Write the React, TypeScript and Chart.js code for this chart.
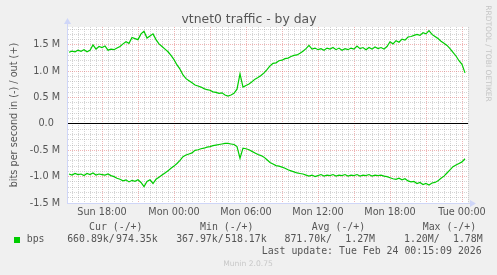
import React, { useEffect, useRef } from "react";
import { Chart, registerables } from "chart.js";

Chart.register(...registerables);

// ---- data ----
const TITLE = "vtnet0 traffic - by day";
const Y_TITLE = "bits per second in (-) / out (+)";
const SIDE_TEXT = "RRDTOOL / TOBI OETIKER";
const FOOTER = "Munin 2.0.75";
const LAST_UPDATE = "Last update: Tue Feb 24 00:15:09 2026";

// sample times: hours relative to Mon 00:00, one sample every 15 minutes
const START_HOUR = -8.75;
const STEP_HOUR = 0.25;

// out (+) traffic, Mbit/s
const OUT_MBPS = [
  1.36, 1.38, 1.37, 1.40, 1.38, 1.41, 1.37, 1.40, 1.50, 1.42,
  1.47, 1.45, 1.48, 1.40, 1.42, 1.41, 1.44, 1.47, 1.52, 1.56,
  1.53, 1.64, 1.62, 1.60, 1.71, 1.76, 1.63, 1.67, 1.71, 1.60,
  1.52, 1.47, 1.42, 1.37, 1.30, 1.22, 1.12, 1.04, 0.93, 0.86,
  0.82, 0.78, 0.74, 0.72, 0.70, 0.67, 0.65, 0.64, 0.61, 0.60,
  0.58, 0.59, 0.55, 0.53, 0.55, 0.58, 0.66, 0.95, 0.70, 0.73,
  0.76, 0.80, 0.85, 0.88, 0.92, 0.97, 1.03, 1.10, 1.15, 1.16,
  1.20, 1.21, 1.24, 1.25, 1.28, 1.30, 1.31, 1.34, 1.38, 1.43,
  1.49, 1.42, 1.44, 1.41, 1.43, 1.40, 1.44, 1.42, 1.45, 1.41,
  1.44, 1.40, 1.43, 1.41, 1.44, 1.42, 1.48, 1.43, 1.45, 1.41,
  1.45, 1.42, 1.46, 1.43, 1.45, 1.42, 1.47, 1.56, 1.52, 1.58,
  1.55, 1.61, 1.59, 1.65, 1.66, 1.68, 1.70, 1.68, 1.73, 1.71,
  1.77, 1.70, 1.66, 1.62, 1.57, 1.53, 1.49, 1.43, 1.36, 1.29,
  1.20, 1.13, 0.97,
];

// in (-) traffic, Mbit/s (drawn below zero)
const IN_MBPS = [
  0.95, 0.97, 0.94, 0.96, 0.95, 0.98, 0.94, 0.96, 0.93, 0.97,
  0.95, 0.96, 0.97, 0.95, 0.98, 1.00, 1.03, 1.05, 1.08, 1.06,
  1.10, 1.07, 1.09, 1.06, 1.11, 1.19, 1.09, 1.06, 1.13, 1.05,
  1.01, 0.97, 0.93, 0.89, 0.84, 0.80, 0.75, 0.69, 0.62, 0.59,
  0.57, 0.55, 0.50, 0.49, 0.47, 0.46, 0.44, 0.43, 0.41, 0.40,
  0.39, 0.38, 0.37, 0.37, 0.38, 0.39, 0.43, 0.65, 0.46, 0.47,
  0.49, 0.52, 0.55, 0.58, 0.60, 0.63, 0.68, 0.73, 0.76, 0.79,
  0.80, 0.82, 0.84, 0.87, 0.89, 0.91, 0.93, 0.94, 0.95, 0.97,
  0.99, 0.97, 1.00, 0.98, 0.96, 0.99, 0.97, 0.98, 0.96, 0.99,
  0.97, 0.98, 0.96, 0.99, 0.97, 0.98, 0.96, 0.99, 0.97, 0.98,
  0.96, 0.99, 0.97, 0.98, 0.97, 0.99, 1.00, 1.02, 1.04, 1.05,
  1.03, 1.06, 1.04, 1.08, 1.10, 1.09, 1.13, 1.11, 1.15, 1.13,
  1.16, 1.12, 1.11, 1.08, 1.03, 0.99, 0.93, 0.87, 0.81, 0.78,
  0.75, 0.72, 0.66,
];

const X_MIN_HOUR = -8.9167;
const X_MAX_HOUR = 24.5;
const X_LABEL_HOURS = [-6, 0, 6, 12, 18, 24];
const X_LABEL_TEXT = ["Sun 18:00", "Mon 00:00", "Mon 06:00", "Mon 12:00", "Mon 18:00", "Tue 00:00"];

const Y_MIN = -1.5;
const Y_MAX = 1.84;

const LEGEND_NAME = "bps";
const LEGEND_HEADERS = ["Cur (-/+)", "Min (-/+)", "Avg (-/+)", "Max (-/+)"];
const LEGEND_IN = ["660.89k", "367.97k", "871.70k", "1.20M"];
const LEGEND_OUT = ["974.35k", "518.17k", "1.27M", "1.78M"];

// ---- style ----
const W = 497;
const H = 275;
const GREEN = "#00CC00";
const TEXT = "#555555";
const AXIS = "#CFD6F8";
const MAJOR = "rgba(222,90,90,0.45)";
const MINOR = "rgba(150,150,150,0.4)";
const SANS = "'DejaVu Sans', sans-serif";
const MONO = "'DejaVu Sans Mono', monospace";

const HEADER_X = [89, 200, 311.7, 422.7];
const COL_END = [157.7, 266.7, 375, 482.7];

const round1 = (v: number) => Math.round(v * 10) / 10;
const round2 = (v: number) => Math.round(v * 100) / 100;

const decorPlugin = {
  id: "muninDecor",
  beforeDraw(chart: any) {
    const { ctx, chartArea: a } = chart;
    ctx.save();
    ctx.fillStyle = "#F0F0F0";
    ctx.fillRect(0, 0, W, H);
    ctx.fillStyle = "#FFFFFF";
    ctx.fillRect(a.left, a.top, a.right - a.left, a.bottom - a.top);
    ctx.restore();
  },
  afterDraw(chart: any) {
    const { ctx, chartArea: a } = chart;
    ctx.save();
    // axis extensions + arrows
    ctx.strokeStyle = AXIS;
    ctx.fillStyle = AXIS;
    ctx.lineWidth = 1;
    ctx.beginPath();
    ctx.moveTo(a.left + 0.5, a.top);
    ctx.lineTo(a.left + 0.5, a.top - 4);
    ctx.moveTo(a.right, a.bottom + 0.5);
    ctx.lineTo(a.right + 3, a.bottom + 0.5);
    ctx.stroke();
    ctx.beginPath();
    ctx.moveTo(a.left + 0.5, a.top - 9);
    ctx.lineTo(a.left - 3, a.top - 3);
    ctx.lineTo(a.left + 4, a.top - 3);
    ctx.closePath();
    ctx.fill();
    ctx.beginPath();
    ctx.moveTo(a.right + 8, a.bottom + 0.5);
    ctx.lineTo(a.right + 2, a.bottom - 3);
    ctx.lineTo(a.right + 2, a.bottom + 4);
    ctx.closePath();
    ctx.fill();

    // title
    ctx.fillStyle = TEXT;
    ctx.font = `12.4px ${SANS}`;
    ctx.textAlign = "center";
    ctx.textBaseline = "alphabetic";
    ctx.fillText(TITLE, 249, 22.5);

    // side text
    ctx.save();
    ctx.translate(487.7, 53.5);
    ctx.rotate(Math.PI / 2);
    ctx.fillStyle = "#C4C4C4";
    ctx.font = `7.5px ${SANS}`;
    ctx.textAlign = "center";
    ctx.textBaseline = "middle";
    ctx.fillText(SIDE_TEXT, 0, 0);
    ctx.restore();

    // legend
    ctx.font = `9.9px ${MONO}`;
    ctx.fillStyle = TEXT;
    ctx.textBaseline = "middle";
    ctx.textAlign = "left";
    LEGEND_HEADERS.forEach((h, i) => ctx.fillText(h, HEADER_X[i], 227.7));
    ctx.fillStyle = GREEN;
    ctx.fillRect(14, 237, 6, 6);
    ctx.fillStyle = TEXT;
    ctx.fillText(LEGEND_NAME, 26.7, 239.7);
    ctx.textAlign = "right";
    COL_END.forEach((end, i) => {
      const start = end - 91;
      ctx.fillText(LEGEND_IN[i] + "/", start + 48, 239.7);
      ctx.fillText(LEGEND_OUT[i], end, 239.7);
    });
    ctx.textAlign = "left";
    ctx.fillText(LAST_UPDATE, 261.7, 251);

    // footer
    ctx.font = `7.6px ${SANS}`;
    ctx.fillStyle = "#C8C8C8";
    ctx.textAlign = "center";
    ctx.fillText(FOOTER, 248, 264);
    ctx.restore();
  },
};

export default function App() {
  const ref = useRef<HTMLCanvasElement | null>(null);

  useEffect(() => {
    document.body.style.margin = "0";
    const canvas = ref.current;
    if (!canvas) return;
    const outData = OUT_MBPS.map((v, i) => ({ x: START_HOUR + i * STEP_HOUR, y: v }));
    const inData = IN_MBPS.map((v, i) => ({ x: START_HOUR + i * STEP_HOUR, y: -v }));

    const xTickValues: number[] = [];
    for (let h = -8.5; h <= X_MAX_HOUR + 1e-6; h += 0.5) xTickValues.push(round2(h));
    const yTickValues: number[] = [];
    for (let v = Y_MIN; v <= 1.8 + 1e-6; v += 0.1) yTickValues.push(round1(v));

    const chart = new Chart(canvas, {
      type: "line",
      data: {
        datasets: [
          { label: "out", data: outData, borderColor: GREEN, borderWidth: 1.2, pointRadius: 0, fill: false, tension: 0 },
          { label: "in", data: inData, borderColor: GREEN, borderWidth: 1.2, pointRadius: 0, fill: false, tension: 0 },
        ],
      },
      plugins: [decorPlugin],
      options: {
        animation: false,
        responsive: false,
        devicePixelRatio: 1,
        events: [],
        layout: { padding: { left: 0, top: 27, right: 29, bottom: 0 } },
        plugins: { legend: { display: false }, title: { display: false }, tooltip: { enabled: false } },
        scales: {
          x: {
            type: "linear",
            min: X_MIN_HOUR,
            max: X_MAX_HOUR,
            afterBuildTicks: (scale: any) => {
              scale.ticks = xTickValues.map((v) => ({ value: v }));
            },
            afterFit: (scale: any) => {
              scale.height = 72;
            },
            ticks: {
              autoSkip: false,
              maxRotation: 0,
              padding: 4,
              color: TEXT,
              font: { family: SANS, size: 9.7 },
              callback: (v: any) => {
                const idx = X_LABEL_HOURS.indexOf(round2(Number(v)));
                return idx >= 0 ? X_LABEL_TEXT[idx] : "";
              },
            },
            grid: {
              drawTicks: false,
              color: (c: any) => {
                const v = c.tick ? round2(c.tick.value) : 1;
                return Math.abs(v / 3 - Math.round(v / 3)) < 1e-6 ? MAJOR : MINOR;
              },
            },
            border: { color: AXIS, width: 1, dash: (c: any) => (c.tick ? [1, 1] : []) },
          },
          y: {
            type: "linear",
            min: Y_MIN,
            max: Y_MAX,
            afterBuildTicks: (scale: any) => {
              scale.ticks = yTickValues.map((v) => ({ value: v }));
            },
            afterFit: (scale: any) => {
              scale.width = 67;
            },
            ticks: {
              autoSkip: false,
              padding: 7,
              color: TEXT,
              font: { family: SANS, size: 9.7 },
              callback: (v: any) => {
                const n = round1(Number(v));
                if (Math.abs(n * 2 - Math.round(n * 2)) > 1e-6) return "";
                if (n === 0) return "0.0  ";
                return `${n.toFixed(1)} M`;
              },
            },
            grid: {
              drawTicks: false,
              color: (c: any) => {
                if (!c.tick) return MINOR;
                const n = round1(c.tick.value);
                if (n === 0) return "#000000";
                return Math.abs(n * 2 - Math.round(n * 2)) < 1e-6 ? MAJOR : MINOR;
              },
            },
            border: {
              color: AXIS,
              width: 1,
              dash: (c: any) => (c.tick && round1(c.tick.value) !== 0 ? [1, 1] : []),
            },
            title: {
              display: true,
              text: Y_TITLE,
              color: TEXT,
              font: { family: SANS, size: 9.7 },
              padding: { top: 9, bottom: 0 },
            },
          },
        },
      },
    } as any);
    return () => chart.destroy();
  }, []);

  return (
    <div style={{ position: "absolute", left: 0, top: 0, width: W, height: H, background: "#F0F0F0" }}>
      <canvas ref={ref} width={W} height={H} style={{ display: "block", width: W, height: H }} />
    </div>
  );
}
